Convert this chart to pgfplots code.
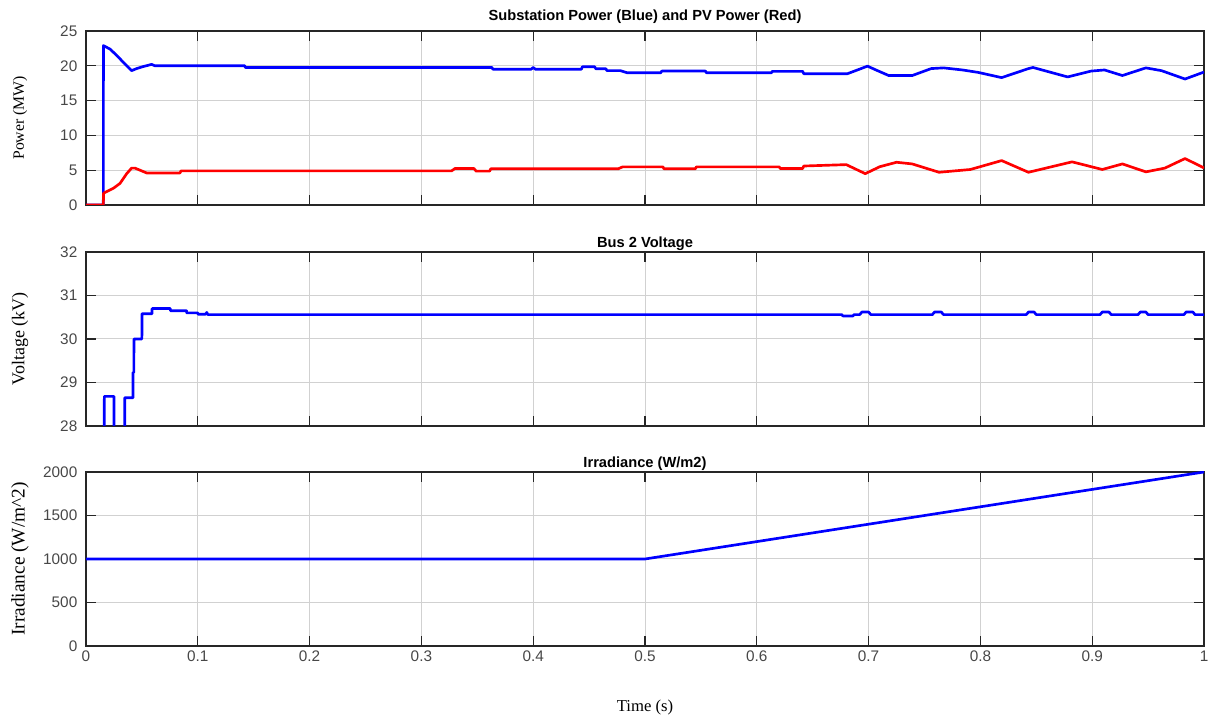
\documentclass[border=0pt]{standalone}
\usepackage{fontspec}
\setmainfont{Liberation Serif}
\setsansfont{Liberation Sans}
\usepackage{pgfplots}
\pgfplotsset{compat=1.18}

\definecolor{gridgray}{gray}{0.82}
\definecolor{axgray}{gray}{0.15}
\definecolor{ticktext}{gray}{0.28}
\definecolor{traceblue}{RGB}{0,0,255}
\definecolor{tracered}{RGB}{255,0,0}

% common look of the three stacked scopes
\pgfplotsset{
  scope/.style={
    scale only axis, width=838.5pt, height=130.5pt,
    xmin=0, xmax=1,
    axis line style={axgray, line width=0.9pt},
    tick style={axgray, line width=0.9pt},
    major tick length=7.5pt,
    tick align=inside,
    xtick pos=both, ytick pos=both,
    grid=major,
    major grid style={gridgray, line width=0.75pt},
    xtick={0,0.1,0.2,0.3,0.4,0.5,0.6,0.7,0.8,0.9,1},
    ticklabel style={font=\sffamily\fontsize{11.5}{13}\selectfont, text=ticktext},
    yticklabel style={xshift=-3pt},
    /pgf/number format/assume math mode=true,
    /pgf/number format/set thousands separator={},
    title style={font=\sffamily\bfseries\fontsize{11}{13}\selectfont,
                 at={(axis description cs:0.5,1)}, anchor=center},
    ylabel style={at={(axis description cs:-0.059,0.5)}, anchor=center},
    trace/.style={line width=2pt, line join=round},
  }
}

\begin{document}
\begin{tikzpicture}
\path[use as bounding box] (0,0) rectangle (909pt,540pt);

% ---------- substation and PV power ----------
\begin{axis}[scope, at={(64.5pt,386.25pt)}, anchor=south west,
  ymin=0, ymax=25, ytick={0,5,10,15,20,25},
  xticklabels={},
  title={Substation Power (Blue) and PV Power (Red)},
  title style={yshift=5pt},
  ylabel={Power (MW)},
  ylabel style={font=\fontsize{11.8}{14}\selectfont}]
\addplot[trace, traceblue] coordinates {
 (0,0) (0.0155,0) (0.0156,22.9) (0.0215,22.4) (0.0274,21.5) (0.0334,20.5)
 (0.0408,19.3) (0.0453,19.6) (0.0513,19.9) (0.0587,20.2) (0.0617,20.0)
 (0.142,20.0) (0.1425,19.76) (0.363,19.76) (0.364,19.5) (0.398,19.5)
 (0.400,19.75) (0.402,19.5) (0.443,19.5) (0.444,19.86) (0.455,19.86)
 (0.456,19.57) (0.465,19.57) (0.466,19.3) (0.478,19.3) (0.484,19.0)
 (0.514,19.0) (0.515,19.24) (0.554,19.24) (0.555,19.0) (0.613,19.0)
 (0.614,19.2) (0.641,19.2) (0.642,18.86) (0.681,18.86) (0.690,19.4)
 (0.699,19.95) (0.708,19.3) (0.718,18.6) (0.739,18.6) (0.756,19.6)
 (0.767,19.7) (0.784,19.4) (0.798,19.05) (0.819,18.3) (0.843,19.6)
 (0.847,19.76) (0.862,19.1) (0.878,18.4) (0.899,19.24) (0.911,19.4)
 (0.927,18.6) (0.948,19.7) (0.962,19.3) (0.983,18.1) (1.0,19.1)
};
\addplot[trace, tracered] coordinates {
 (0,0) (0.0155,0) (0.0157,1.7) (0.0245,2.4) (0.0304,3.1) (0.0364,4.5)
 (0.0408,5.3) (0.0438,5.3) (0.0498,4.9) (0.0543,4.6) (0.084,4.6)
 (0.085,4.9) (0.327,4.9) (0.330,5.24) (0.347,5.24) (0.349,4.86)
 (0.361,4.86) (0.362,5.2) (0.476,5.2) (0.480,5.48) (0.516,5.48)
 (0.517,5.2) (0.545,5.2) (0.546,5.48) (0.620,5.48) (0.621,5.24)
 (0.641,5.24) (0.642,5.6) (0.680,5.8) (0.697,4.5) (0.710,5.5)
 (0.725,6.14) (0.739,5.9) (0.763,4.7) (0.791,5.1) (0.819,6.38)
 (0.843,4.7) (0.882,6.2) (0.909,5.1) (0.927,5.9) (0.948,4.76)
 (0.965,5.3) (0.983,6.67) (1.0,5.33)
};
\end{axis}

% ---------- bus 2 voltage ----------
\begin{axis}[scope, at={(64.5pt,220.5pt)}, anchor=south west,
  ymin=28, ymax=32, ytick={28,29,30,31,32},
  xticklabels={},
  title={Bus 2 Voltage},
  title style={yshift=0.5pt},
  ylabel={Voltage (kV)},
  ylabel style={font=\fontsize{13.5}{15}\selectfont}]
\addplot[trace, traceblue] coordinates {
 (0,26) (0.0163,26) (0.0164,28.68) (0.025,28.68) (0.0251,26) (0.0346,26)
 (0.0347,28.65) (0.042,28.65) (0.0421,29.23) (0.0428,29.23) (0.0429,30.0)
 (0.050,30.0) (0.0501,30.58) (0.059,30.58) (0.0591,30.7) (0.0754,30.7)
 (0.0755,30.65) (0.090,30.65) (0.0901,30.6) (0.100,30.6) (0.1001,30.57)
 (0.107,30.57) (0.108,30.61) (0.109,30.56) (0.676,30.56) (0.677,30.53)
 (0.686,30.53) (0.687,30.56) (0.692,30.56) (0.694,30.62) (0.700,30.62)
 (0.702,30.56) (0.757,30.56) (0.759,30.62) (0.765,30.62) (0.767,30.56)
 (0.841,30.56) (0.843,30.62) (0.848,30.62) (0.850,30.56) (0.907,30.56)
 (0.909,30.62) (0.915,30.62) (0.917,30.56) (0.941,30.56) (0.943,30.62)
 (0.948,30.62) (0.950,30.56) (0.982,30.56) (0.984,30.62) (0.990,30.62)
 (0.992,30.56) (1.0,30.56)
};
\end{axis}

% ---------- irradiance ----------
\begin{axis}[scope, at={(64.5pt,55.5pt)}, anchor=south west,
  ymin=0, ymax=2000, ytick={0,500,1000,1500,2000},
  xticklabels={0,0.1,0.2,0.3,0.4,0.5,0.6,0.7,0.8,0.9,1},
  title={Irradiance (W/m2)},
  title style={yshift=0.5pt},
  ylabel={Irradiance (W/m\textasciicircum 2)},
  ylabel style={font=\fontsize{14.5}{16}\selectfont},
  xlabel={Time (s)},
  xlabel style={font=\fontsize{12.5}{14}\selectfont,
                at={(axis description cs:0.5,-0.355)}, anchor=center}]
\addplot[trace, traceblue] coordinates {
 (0,1000) (0.5,1000) (1.0,2000)
};
\end{axis}
\end{tikzpicture}
\end{document}
